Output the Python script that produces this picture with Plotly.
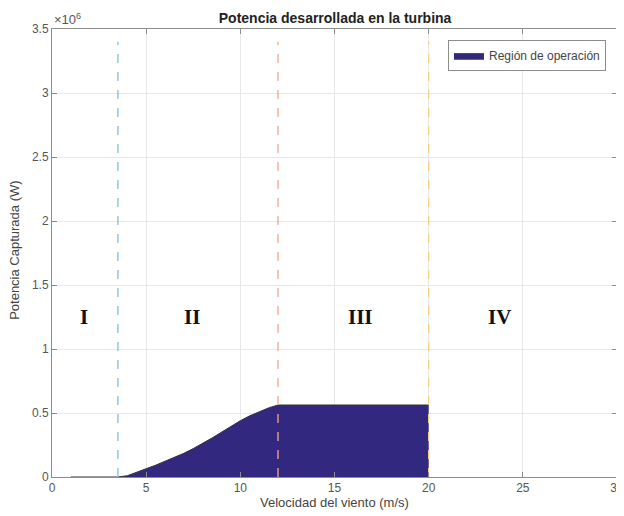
import plotly.graph_objects as go

# Data (wind speed m/s, captured power W)
wind_speed = [1, 2, 3, 3.5, 4, 4.5, 5, 5.5, 6, 6.5, 7, 7.5, 8, 8.5, 9, 9.5, 10, 10.5, 11, 11.5, 12, 13, 14, 15, 16, 17, 18, 19, 20]
power = [0, 0, 0, 0, 10000, 35000, 65000, 92000, 122000, 152000, 185000, 222000, 262000, 305000, 350000, 395000, 440000, 478000, 510000, 540000, 562500,
         562500, 562500, 562500, 562500, 562500, 562500, 562500, 562500]

boundaries = [3.5, 12, 20]
boundary_colors = ["#7dbde8", "#f0a890", "#f5cf86"]
boundary_top = 3.4e6

region_labels = ["I", "II", "III", "IV"]
region_x = [1.68, 7.43, 16.36, 23.74]
region_y = [1.25e6, 1.25e6, 1.25e6, 1.25e6]

y_tickvals = [0, 0.5e6, 1e6, 1.5e6, 2e6, 2.5e6, 3e6, 3.5e6]
y_ticktext = ["0", "0.5", "1", "1.5", "2", "2.5", "3", "3.5"]
x_tickvals = [0, 5, 10, 15, 20, 25, 30]

fig = go.Figure()

fig.add_trace(go.Scatter(
    x=wind_speed, y=power, mode="lines", fill="tozeroy",
    fillcolor="#322880", line=dict(color="#333333", width=1),
    name="Región de operación", showlegend=True,
))

for b, c in zip(boundaries, boundary_colors):
    fig.add_trace(go.Scatter(
        x=[b, b], y=[0, boundary_top], mode="lines",
        line=dict(color=c, width=1.3, dash="dash"), showlegend=False, hoverinfo="skip",
    ))

for lab, xx, yy in zip(region_labels, region_x, region_y):
    fig.add_annotation(x=xx, y=yy, text="<b>" + lab + "</b>", showarrow=False,
                       font=dict(family="Liberation Serif", size=21, color="#111111"))

fig.add_annotation(xref="paper", yref="paper", x=0.0, y=1.0, xanchor="left", yanchor="bottom",
                   text="×10<sup>6</sup>", showarrow=False,
                   font=dict(family="Liberation Sans", size=13, color="#555555"))

# Axis titles as annotations for exact placement
fig.add_annotation(xref="paper", yref="paper", x=0.5, y=-0.056, xanchor="center", yanchor="middle",
                   text="Velocidad del viento (m/s)", showarrow=False,
                   font=dict(family="Liberation Sans", size=13, color="#444444"))
fig.add_annotation(xref="paper", yref="paper", x=-0.0655, y=0.507, xanchor="center", yanchor="middle",
                   text="Potencia Capturada (W)", showarrow=False, textangle=-90,
                   font=dict(family="Liberation Sans", size=13, color="#444444"))

axis_common = dict(
    showline=True, linecolor="#8c8c8c", linewidth=1, mirror="ticks",
    ticks="inside", ticklen=5, tickcolor="#8c8c8c",
    showgrid=True, gridcolor="#e8e8e8", gridwidth=1, zeroline=False,
    tickfont=dict(family="Liberation Sans", size=12, color="#555555"),
    automargin=False,
)

fig.update_xaxes(range=[0, 30], tickvals=x_tickvals, **axis_common)
fig.update_yaxes(range=[0, 3.5e6], tickvals=y_tickvals, ticktext=y_ticktext, **axis_common)

# The page adds an 8px body margin, so the figure is 8px smaller on each leading side
fig.update_layout(
    width=616, height=508,
    margin=dict(l=44, r=7, t=21, b=39, autoexpand=False),
    paper_bgcolor="white", plot_bgcolor="white",
    title=dict(text="<b>Potencia desarrollada en la turbina</b>", x=0.531, xanchor="center",
               xref="container", yref="container", y=0.980, yanchor="middle",
               font=dict(family="Liberation Sans", size=14, color="#222222")),
    legend=dict(x=0.9805, y=0.975, xanchor="right", yanchor="top",
                bgcolor="white", bordercolor="#8c8c8c", borderwidth=1,
                font=dict(family="Liberation Sans", size=12, color="#444444")),
    showlegend=True,
)

fig.write_html("out.html")
